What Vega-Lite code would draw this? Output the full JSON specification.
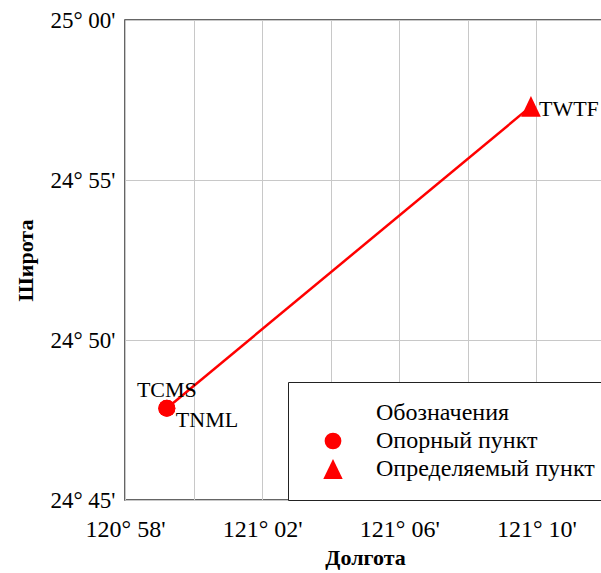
{
  "$schema": "https://vega.github.io/schema/vega-lite/v6.json",
  "autosize": "none",
  "padding": {"left": 125, "top": 20, "right": 0, "bottom": 73},
  "width": 480,
  "height": 480,
  "background": "white",
  "config": {
    "font": "Liberation Serif",
    "view": {"stroke": "#333", "strokeWidth": 1.5},
    "axis": {
      "labelFont": "Liberation Serif",
      "labelFontSize": 23,
      "labelColor": "black",
      "titleFont": "Liberation Serif",
      "titleFontSize": 22,
      "titleFontWeight": "bold",
      "titleColor": "black",
      "ticks": false,
      "domain": false,
      "grid": true,
      "gridColor": "#c8c8c8",
      "gridWidth": 1,
      "labelFlush": false,
      "labelOverlap": false
    }
  },
  "data": {
    "values": [
      {"name": "TCMS", "lon": 120.9870, "lat": 24.7978, "type": "Опорный пункт"},
      {"name": "TNML", "lon": 120.9870, "lat": 24.7978, "type": "Опорный пункт"},
      {"name": "TWTF", "lon": 121.1640, "lat": 24.9550, "type": "Определяемый пункт"}
    ]
  },
  "encoding": {
    "x": {
      "field": "lon",
      "type": "quantitative",
      "scale": {"domain": [120.96666667, 121.2], "zero": false, "nice": false},
      "axis": {
        "title": "Долгота",
        "values": [120.96666667, 121.0, 121.03333333, 121.06666667, 121.1, 121.13333333, 121.16666667, 121.2],
        "labelFontSize": 24,
        "labelPadding": 17,
        "titlePadding": 6,
        "labelExpr": "(round((datum.value-120)*60)-58)%4==0 ? (120+floor(round((datum.value-120)*60)/60)) + '° ' + (round((datum.value-120)*60)%60<10?'0':'') + (round((datum.value-120)*60)%60) + \"'\" : ''"
      }
    },
    "y": {
      "field": "lat",
      "type": "quantitative",
      "scale": {"domain": [24.75, 25.0], "zero": false, "nice": false},
      "axis": {
        "title": "Широта",
        "values": [24.75, 24.83333333, 24.91666667, 25.0],
        "labelPadding": 10,
        "titlePadding": 12,
        "labelExpr": "(24+floor(round((datum.value-24)*60)/60)) + '° ' + (round((datum.value-24)*60)%60<10?'0':'') + (round((datum.value-24)*60)%60) + \"'\""
      }
    }
  },
  "layer": [
    {
      "mark": {"type": "line", "color": "#ff0000", "strokeWidth": 2.5},
      "encoding": {"order": {"field": "lon", "type": "quantitative"}}
    },
    {
      "mark": {"type": "point", "filled": true, "opacity": 1, "size": 289, "strokeWidth": 0},
      "encoding": {
        "shape": {
          "field": "type",
          "type": "nominal",
          "scale": {
            "domain": ["Обозначения", "Опорный пункт", "Определяемый пункт"],
            "range": ["circle", "circle", "M0,-1.21L1.16,1.21L-1.16,1.21Z"]
          },
          "legend": {
            "title": null,
            "orient": "none",
            "legendX": 163,
            "legendY": 362,
            "padding": 19,
            "rowPadding": 4,
            "symbolSize": 280,
            "symbolOffset": 14,
            "labelOffset": 31,
            "labelFont": "Liberation Serif",
            "labelFontSize": 24,
            "labelColor": "black",
            "labelLimit": 0,
            "strokeColor": "#222",
            "fillColor": "white",
            "symbolStrokeWidth": 0
          }
        },
        "color": {
          "field": "type",
          "type": "nominal",
          "scale": {
            "domain": ["Обозначения", "Опорный пункт", "Определяемый пункт"],
            "range": ["transparent", "#ff0000", "#ff0000"]
          },
          "legend": {
            "title": null,
            "orient": "none",
            "legendX": 163,
            "legendY": 362,
            "padding": 19,
            "rowPadding": 4,
            "symbolSize": 280,
            "symbolOffset": 14,
            "labelOffset": 31,
            "labelFont": "Liberation Serif",
            "labelFontSize": 24,
            "labelColor": "black",
            "labelLimit": 0,
            "strokeColor": "#222",
            "fillColor": "white",
            "symbolStrokeWidth": 0
          }
        }
      }
    },
    {
      "transform": [{"filter": "datum.name == 'TCMS'"}],
      "mark": {"type": "text", "font": "Liberation Serif", "fontSize": 22, "color": "black", "align": "center", "baseline": "middle", "dy": -18},
      "encoding": {"text": {"field": "name"}}
    },
    {
      "transform": [{"filter": "datum.name == 'TNML'"}],
      "mark": {"type": "text", "font": "Liberation Serif", "fontSize": 22, "color": "black", "align": "left", "baseline": "middle", "dx": 9, "dy": 12},
      "encoding": {"text": {"field": "name"}}
    },
    {
      "transform": [{"filter": "datum.name == 'TWTF'"}],
      "mark": {"type": "text", "font": "Liberation Serif", "fontSize": 22, "color": "black", "align": "left", "baseline": "middle", "dx": 8, "dy": 3},
      "encoding": {"text": {"field": "name"}}
    }
  ]
}
